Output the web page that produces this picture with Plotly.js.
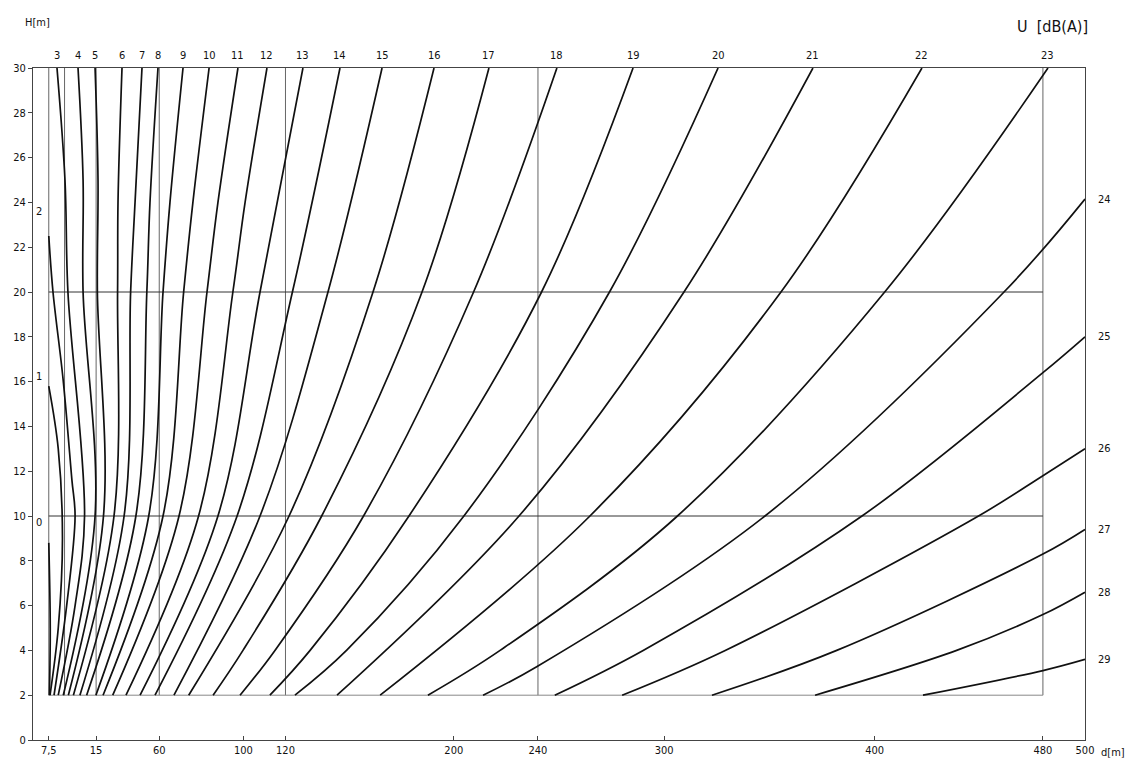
<!DOCTYPE html>
<html><head><meta charset="utf-8">
<script src="https://cdn.plot.ly/plotly-3.0.1.min.js"></script>
<style>html,body{margin:0;padding:0;background:#fff}#chart{width:1136px;height:763px}</style>
</head><body><div id="chart"></div>
<script>
// U [dB(A)] isolines: distance d [m] vs height H [m]
const U_VALUES = [0,1,2,3,4,5,6,7,8,9,10,11,12,13,14,15,16,17,18,19,20,21,22,23,24,25,26,27,28,29];

const d0 = [7.8, 8.2, 7.5];                    const h0 = [2, 5, 8.8];
const d1 = [8.1, 12, 14, 12, 7.5];             const h1 = [2, 5, 9, 13, 15.8];
const d2 = [10, 16, 20, 18.5, 14.3, 9.5, 7.5]; const h2 = [2, 6, 10, 11.6, 16.1, 20, 22.5];
const d3 = [12, 20, 24.5, 16.6, 15.2, 11.4];   const h3 = [2, 6, 10, 20, 25, 30];
const d4 = [14.4, 29.5, 23.8, 23.8, 21.4];     const h4 = [2, 10, 20, 25, 30];
const d5 = [16.8, 33.5, 30.6, 30.9, 29.5];     const h5 = [2, 10, 20, 25, 30];
const d6 = [19.2, 38.5, 40.2, 40.4, 42.3];     const h6 = [2, 10, 20, 24, 30];
const d7 = [22.3, 43.3, 46.4, 48.5, 51.8];     const h7 = [2, 10, 20, 24, 30];
const d8 = [25.5, 48.9, 54.1, 55.6, 59.4];     const h8 = [2, 10, 20, 24, 30];
const d9 = [29.9, 55, 61.8, 65.1, 71.3];       const h9 = [2, 10, 20, 24, 30];
const d10 = [33.3, 61.8, 71.6, 76, 83.7];      const h10 = [2, 10, 20, 24, 30];
const d11 = [37.9, 69.4, 82.7, 87.9, 97.4];    const h11 = [2, 10, 20, 24, 30];
const d12 = [44.2, 78.7, 95, 100.8, 111.2];    const h12 = [2, 10, 20, 24, 30];
const d13 = [50.9, 87.9, 107.9, 128.3];        const h13 = [2, 10, 20, 30];
const d14 = [58, 97, 123.3, 145.9];            const h14 = [2, 10, 20, 30];
const d15 = [67, 107.9, 140.2, 165.9];         const h15 = [2, 10, 20, 30];
const d16 = [74, 121.7, 161.6, 190.6];         const h16 = [2, 10, 20, 30];
const d17 = [85.6, 99.8, 137.2, 184.9, 216.7]; const h17 = [2, 4, 10, 20, 30];
const d18 = [98.4, 115, 157.1, 209.4, 249];    const h18 = [2, 4, 10, 20, 30];
const d19 = [112.6, 131.7, 178.7, 241.7, 285.2]; const h19 = [2, 4, 10, 20, 30];
const d20 = [124.5, 149, 204.8, 274, 325.6];   const h20 = [2, 4, 10, 20, 30];
const d21 = [144.5, 231, 309.4, 370.7];        const h21 = [2, 10, 20, 30];
const d22 = [165, 264.7, 355.5, 422.5];        const h22 = [2, 10, 20, 30];
const d23 = [187.7, 222, 306.3, 404.8, 482.4]; const h23 = [2, 4, 10, 20, 30];
const d24 = [213.9, 239.4, 347.9, 461.5, 500]; const h24 = [2, 3.27, 10, 20, 24.15];
const d25 = [248, 290, 394, 480, 500];         const h25 = [2, 4, 10, 16.4, 18];
const d26 = [280, 329, 449.4, 480, 500];       const h26 = [2, 4, 10, 11.8, 13];
const d27 = [322.7, 382, 480, 500];            const h27 = [2, 4, 8.3, 9.4];
const d28 = [371.7, 439, 480, 500];            const h28 = [2, 4, 5.6, 6.6];
const d29 = [423, 480, 500];                   const h29 = [2, 3.1, 3.6];

const CURVE_D = [d0,d1,d2,d3,d4,d5,d6,d7,d8,d9,d10,d11,d12,d13,d14,d15,d16,d17,d18,d19,d20,d21,d22,d23,d24,d25,d26,d27,d28,d29];
const CURVE_H = [h0,h1,h2,h3,h4,h5,h6,h7,h8,h9,h10,h11,h12,h13,h14,h15,h16,h17,h18,h19,h20,h21,h22,h23,h24,h25,h26,h27,h28,h29];

// reference grid (doubling distances) and heights
const GRID_D = [7.5, 15, 30, 60, 120, 240, 480];
const GRID_H = [2, 10, 20];

const X_TICK_VALS = [7.5, 30, 60, 100, 120, 200, 240, 300, 400, 480, 500];
const X_TICK_TEXT = ['7,5', '15', '60', '100', '120', '200', '240', '300', '400', '480', '500'];
const Y_TICK_VALS = [0,2,4,6,8,10,12,14,16,18,20,22,24,26,28,30];

const FONT = 'DejaVu Sans Condensed, Liberation Sans Narrow, Arial, sans-serif';

const traces = CURVE_D.map((d, i) => ({
  type: 'scatter', mode: 'lines', x: d, y: CURVE_H[i],
  line: {color: '#111', width: 1.7, shape: 'spline', smoothing: 1},
  hoverinfo: 'skip', showlegend: false
}));

const shapes = [];
const dMin = GRID_D[0], dMax = GRID_D[GRID_D.length - 1];
GRID_D.forEach(v => shapes.push({type: 'line', xref: 'x', yref: 'y', x0: v, x1: v, y0: GRID_H[0], y1: 30,
  line: {color: '#666', width: 1}, layer: 'below'}));
GRID_H.forEach(v => shapes.push({type: 'line', xref: 'x', yref: 'y', x0: dMin, x1: dMax, y0: v, y1: v,
  line: {color: v === 2 ? '#888' : '#333', width: 1}, layer: 'below'}));

const annotations = [];
CURVE_D.forEach((d, i) => {
  const u = U_VALUES[i];
  const h = CURVE_H[i];
  if (u <= 2) {
    const ys = [20, 10, 25][u];
    annotations.push({x: d[d.length-1], y: h[h.length-1], xref: 'x', yref: 'y', text: String(u),
      showarrow: false, xshift: -10, yshift: ys, font: {family: FONT, size: 11, color: '#111'}});
  } else if (h[h.length-1] >= 30) {
    annotations.push({x: d[d.length-1], y: 30, xref: 'x', yref: 'y', text: String(u),
      showarrow: false, yshift: 13, font: {family: FONT, size: 11, color: '#111'}});
  } else {
    annotations.push({x: d[d.length-1], y: h[h.length-1], xref: 'x', yref: 'y', text: String(u),
      showarrow: false, xshift: 19, font: {family: FONT, size: 11, color: '#111'}});
  }
});
annotations.push({xref: 'paper', yref: 'paper', x: 0, y: 1, xanchor: 'left', yanchor: 'bottom', yshift: 37, xshift: -10,
  text: 'H[m]', showarrow: false, font: {family: FONT, size: 11, color: '#111'}});
annotations.push({xref: 'paper', yref: 'paper', x: 1, y: 0, xanchor: 'left', yanchor: 'top', xshift: 14, yshift: -4,
  text: 'd[m]', showarrow: false, font: {family: FONT, size: 11, color: '#111'}});
annotations.push({xref: 'paper', yref: 'paper', x: 1, y: 1, xanchor: 'right', yanchor: 'bottom', xshift: 5, yshift: 30,
  text: 'U  [dB(A)]', showarrow: false, font: {family: FONT, size: 16, color: '#111'}});

const layout = {
  width: 1136, height: 763,
  margin: {l: 33, r: 51, t: 68, b: 23},
  paper_bgcolor: '#fff', plot_bgcolor: '#fff',
  showlegend: false,
  font: {family: FONT, size: 11, color: '#111'},
  xaxis: {range: [0, 500], showgrid: false, zeroline: false, showline: true, mirror: true,
    linecolor: '#444', linewidth: 1, ticks: 'inside', ticklen: 4, tickcolor: '#444',
    tickvals: X_TICK_VALS, ticktext: X_TICK_TEXT, tickfont: {family: FONT, size: 11}},
  yaxis: {range: [0, 30], showgrid: false, zeroline: false, showline: true, mirror: true,
    linecolor: '#444', linewidth: 1, ticks: 'outside', ticklen: 4, tickcolor: '#444',
    tickvals: Y_TICK_VALS, tickfont: {family: FONT, size: 11}},
  shapes: shapes,
  annotations: annotations
};

Plotly.newPlot('chart', traces, layout, {displayModeBar: false, staticPlot: true});
</script>
</body></html>
